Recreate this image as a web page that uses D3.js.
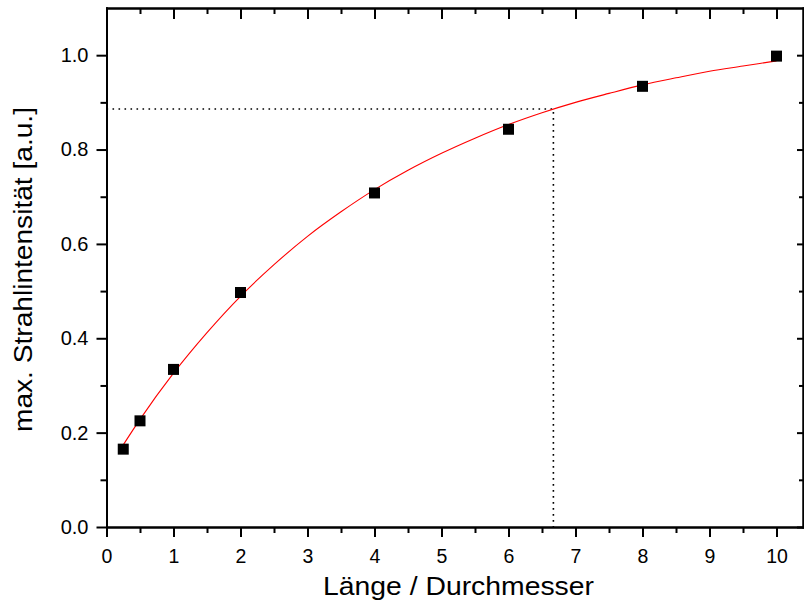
<!DOCTYPE html>
<html>
<head>
<meta charset="utf-8">
<script src="https://cdn.jsdelivr.net/npm/d3@7"></script>
<style>
  body { margin: 0; background: #fff; }
  svg text { font-family: "Liberation Sans", Arial, sans-serif; fill: #000; }
  .axis path, .axis line { stroke: #000; stroke-width: 2; }
</style>
</head>
<body>
<svg id="graph" width="804" height="602"></svg>
<script>
// measured points
let ratioX = [0.25, 0.5, 1, 2, 4, 6, 8, 10]
let intensity = [0.165, 0.225, 0.334, 0.497, 0.708, 0.843, 0.934, 0.998]

// fit curve
let fitX = [0.25, 0.5, 1, 1.5, 2, 2.5, 3, 3.5, 4, 4.5, 5, 5.5, 6, 6.5, 7, 7.5, 8, 8.5, 9, 9.5, 10]
let fitY = [0.174, 0.228, 0.326, 0.412, 0.489, 0.556, 0.616, 0.668, 0.715, 0.756, 0.792, 0.824, 0.853, 0.878, 0.900, 0.919, 0.937, 0.952, 0.966, 0.977, 0.988]

// dotted marker lines
let markX = 6.67
let markY = 0.886

let xTicks = [0, 1, 2, 3, 4, 5, 6, 7, 8, 9, 10]
let xMinor = [0.5, 1.5, 2.5, 3.5, 4.5, 5.5, 6.5, 7.5, 8.5, 9.5]
let yTicks = [0, 0.2, 0.4, 0.6, 0.8, 1.0]
let yMinor = [0.1, 0.3, 0.5, 0.7, 0.9]

let svg = d3.select("#graph"),
    pLeft = 106.5, pRight = 803, pTop = 8, pBottom = 527

let x = d3.scaleLinear().domain([0, 10.4]).range([pLeft, pLeft + 67 * 10.4]),
    y = d3.scaleLinear().domain([0, 1.1]).range([pBottom, pTop])

function ax(axis, vals, size, fmt) {
  return axis.tickValues(vals).tickSize(size).tickSizeOuter(0).tickFormat(fmt || "")
}
let fmtY = d3.format(".1f")

// bottom
svg.append("g").attr("class", "axis").attr("transform", "translate(0," + pBottom + ")")
  .call(ax(d3.axisBottom(x), xMinor, 6))
let bx = svg.append("g").attr("class", "axis").attr("transform", "translate(0," + pBottom + ")")
  .call(ax(d3.axisBottom(x), xTicks, 10, d3.format("d")))
bx.selectAll("text").attr("font-size", 19.5).attr("y", 36).attr("dy", 0)
// top, inward
svg.append("g").attr("class", "axis").attr("transform", "translate(0," + pTop + ")")
  .call(ax(d3.axisBottom(x), xMinor, 6))
svg.append("g").attr("class", "axis").attr("transform", "translate(0," + pTop + ")")
  .call(ax(d3.axisBottom(x), xTicks, 11))
// left
svg.append("g").attr("class", "axis").attr("transform", "translate(" + pLeft + ",0)")
  .call(ax(d3.axisLeft(y), yMinor, 6))
let ly = svg.append("g").attr("class", "axis").attr("transform", "translate(" + pLeft + ",0)")
  .call(ax(d3.axisLeft(y), yTicks, 10, fmtY))
ly.selectAll("text").attr("font-size", 20).attr("x", -18)
// right, inward
svg.append("g").attr("class", "axis").attr("transform", "translate(" + pRight + ",0)")
  .call(ax(d3.axisLeft(y), yMinor, 4))
svg.append("g").attr("class", "axis").attr("transform", "translate(" + pRight + ",0)")
  .call(ax(d3.axisLeft(y), yTicks, 6))

svg.selectAll(".axis .domain").attr("stroke-linecap", "square")
svg.selectAll(".axis text").attr("font-family", "Liberation Sans, Arial, sans-serif")

// dotted guides
svg.append("path")
  .attr("d", "M" + x(0) + "," + y(markY) + "H" + x(markX) + "V" + y(0))
  .attr("fill", "none").attr("stroke", "#000").attr("stroke-width", 1.6)
  .attr("stroke-dasharray", "1.6,4.4")

// fit curve
let line = d3.line().curve(d3.curveMonotoneX)
  .x(function(d) { return x(d[0]) })
  .y(function(d) { return y(d[1]) })
svg.append("path")
  .datum(fitX.map(function(v, i) { return [v, fitY[i]] }))
  .attr("d", line)
  .attr("fill", "none").attr("stroke", "#ff0000").attr("stroke-width", 1.1)

// squares
let s = 11
svg.selectAll(".pt").data(ratioX).enter().append("rect")
  .attr("class", "pt")
  .attr("x", function(d) { return x(d) - s / 2 })
  .attr("y", function(d, i) { return y(intensity[i]) - s / 2 })
  .attr("width", s).attr("height", s)
  .attr("fill", "#000")

// axis titles
svg.append("text")
  .attr("x", 323).attr("y", 595)
  .attr("font-size", 25.5)
  .attr("textLength", 271).attr("lengthAdjust", "spacingAndGlyphs")
  .text("Länge / Durchmesser")
svg.append("text")
  .attr("transform", "translate(32,270) rotate(-90)")
  .attr("x", -162).attr("font-size", 25.5)
  .attr("textLength", 325).attr("lengthAdjust", "spacingAndGlyphs")
  .text("max. Strahlintensität [a.u.]")
</script>
</body>
</html>
